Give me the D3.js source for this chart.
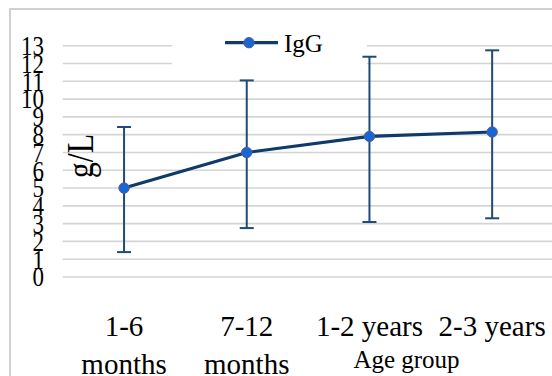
<!DOCTYPE html>
<html><head><meta charset="utf-8">
<script src="https://cdn.jsdelivr.net/npm/d3@7"></script>
<style>body{margin:0;background:#fff}svg{display:block}</style>
</head><body>
<script>
const categories = ["1-6 months","7-12 months","1-2 years","2-3 years"];
const categoryLines = [["1-6","months"],["7-12","months"],["1-2 years"],["2-3 years"]];
const igg = [5.0, 7.0, 7.9, 8.15];
const errUpper = [8.43, 11.05, 12.38, 12.74];
const errLower = [1.4, 2.75, 3.09, 3.3];
const yTicks = [0,1,2,3,4,5,6,7,8,9,10,11,12,13];
const seriesName = "IgG";
const yTitle = "g/L";
const xTitle = "Age group";

const W = 552, H = 376;
const svg = d3.select("body").append("svg").attr("width", W).attr("height", H);
const font = "'Liberation Serif','Times New Roman',serif";

// chart border
svg.append("rect").attr("x",10).attr("y",9).attr("width",W+20).attr("height",H+20)
  .attr("fill","#fff").attr("stroke","#d0d0d0").attr("stroke-width",2);

const x = d3.scalePoint().domain(categories).range([62.7, 553.5]).padding(0.5);
const y = d3.scaleLinear().domain([0,13]).range([277, 45.7]);

// gridlines
svg.append("g").selectAll("line").data(yTicks).join("line")
  .attr("x1",62.7).attr("x2",W).attr("y1",d=>y(d)).attr("y2",d=>y(d))
  .attr("stroke","#d4d4d4").attr("stroke-width",1.6);

// y tick labels (vertically stretched like the reference)
svg.append("g").selectAll("text").data(yTicks).join("text")
  .attr("transform",d=>`translate(44,${y(d)+9.3}) scale(1,1.2)`)
  .attr("text-anchor","end")
  .attr("font-family",font).attr("font-size",23).attr("fill","#000")
  .text(d=>d);

// y title
svg.append("text").attr("transform","translate(93,156) rotate(-90) scale(1,1.2)")
  .attr("text-anchor","middle").attr("font-family",font).attr("font-size",32)
  .attr("fill","#000").text(yTitle);

// legend background
svg.append("rect").attr("x",172).attr("y",30).attr("width",195).attr("height",42).attr("fill","#fff");

// error bars
const eb = svg.append("g").attr("stroke","#1f4a7a").attr("stroke-width",2);
categories.forEach((c,i)=>{
  const cx = x(c);
  eb.append("line").attr("x1",cx).attr("x2",cx).attr("y1",y(errUpper[i])).attr("y2",y(errLower[i]));
  eb.append("line").attr("x1",cx-7).attr("x2",cx+7).attr("y1",y(errUpper[i])).attr("y2",y(errUpper[i]));
  eb.append("line").attr("x1",cx-7).attr("x2",cx+7).attr("y1",y(errLower[i])).attr("y2",y(errLower[i]));
});

// line
const line = d3.line().x((d,i)=>x(categories[i])).y(d=>y(d));
svg.append("path").datum(igg).attr("d",line).attr("fill","none")
  .attr("stroke","#0e3a6c").attr("stroke-width",3.2);
svg.append("g").selectAll("circle").data(igg).join("circle")
  .attr("cx",(d,i)=>x(categories[i])).attr("cy",d=>y(d)).attr("r",5.2)
  .attr("fill","#1666d6").attr("stroke","#5b5b8f").attr("stroke-width",1);

// legend
svg.append("line").attr("x1",225).attr("x2",278).attr("y1",42.7).attr("y2",42.7)
  .attr("stroke","#0e3a6c").attr("stroke-width",3.2);
svg.append("circle").attr("cx",249).attr("cy",42.7).attr("r",5.2)
  .attr("fill","#1666d6").attr("stroke","#5b5b8f").attr("stroke-width",1);
svg.append("text").attr("x",284).attr("y",51.5).attr("font-family",font).attr("font-size",25)
  .attr("fill","#000").text(seriesName);

// x labels
const xl = svg.append("g");
categories.forEach((c,i)=>{
  categoryLines[i].forEach((t,j)=>{
    xl.append("text").attr("x",x(c)).attr("y",336 + j*38).attr("text-anchor","middle")
      .attr("font-family",font).attr("font-size",29).attr("fill","#000").text(t);
  });
});

// x title
svg.append("text").attr("x",406.5).attr("y",368).attr("text-anchor","middle")
  .attr("font-family",font).attr("font-size",25).attr("fill","#000").text(xTitle);
</script>
</body></html>
